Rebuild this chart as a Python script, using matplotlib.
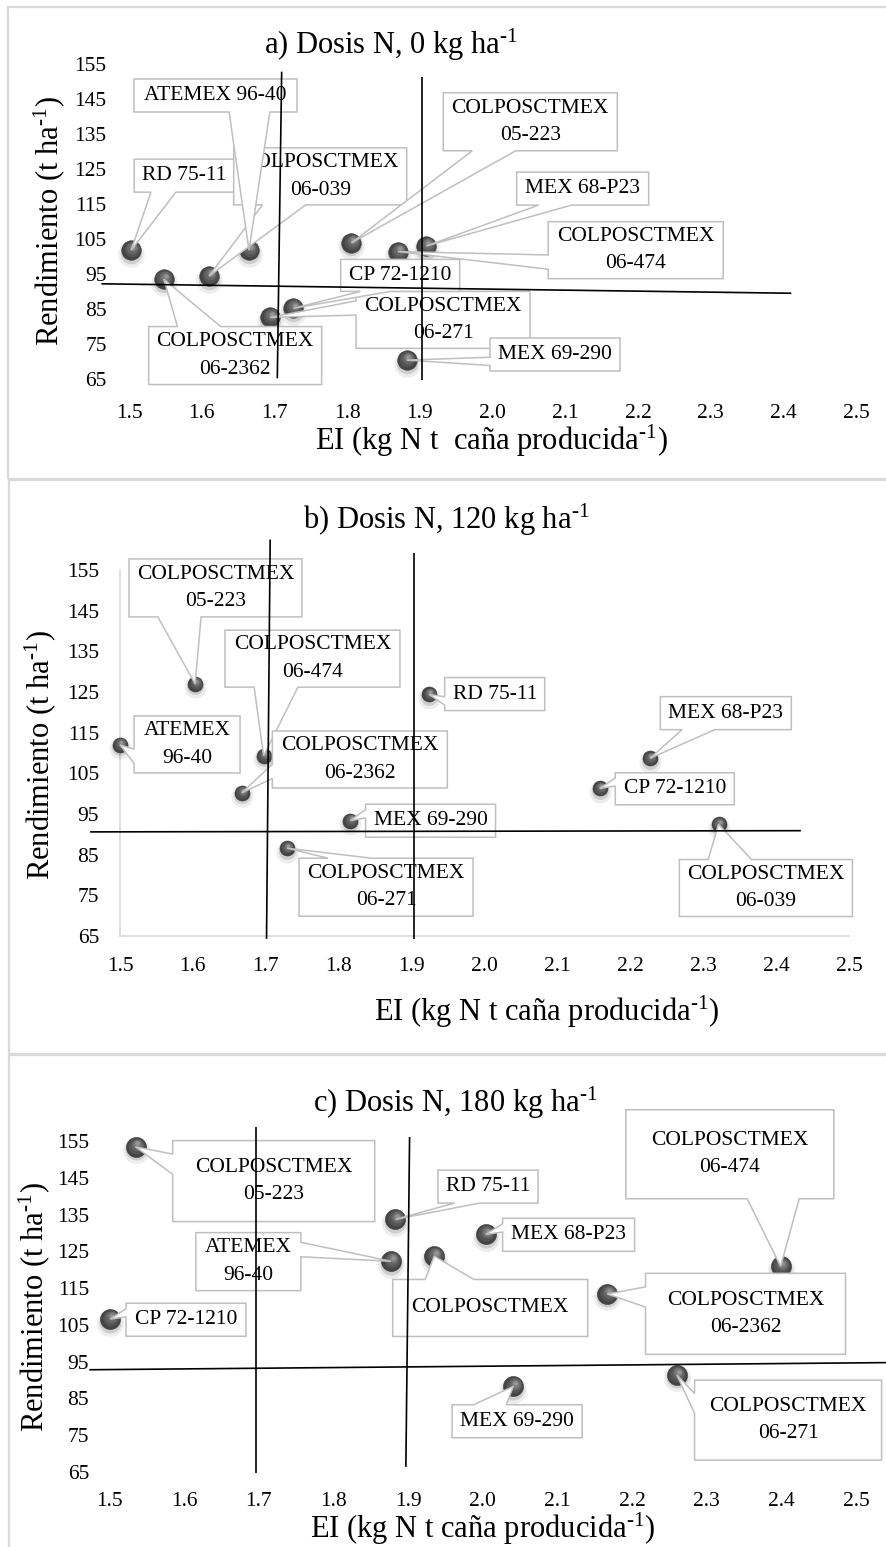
import matplotlib
matplotlib.use("Agg")
import matplotlib.pyplot as plt
from matplotlib.patches import Rectangle, PathPatch
from matplotlib.path import Path
from matplotlib.transforms import IdentityTransform, offset_copy
from matplotlib.mathtext import MathTextParser

plt.rcParams['font.family'] = ['Liberation Serif', 'DejaVu Serif']
plt.rcParams['mathtext.fontset'] = 'custom'
plt.rcParams['mathtext.rm'] = 'Liberation Serif'
plt.rcParams['mathtext.it'] = 'Liberation Serif:italic'


def _sup_m1():
    cand = r'$^{\text{-1}}$'
    try:
        MathTextParser('path').parse(cand)
        return cand
    except Exception:
        return r'$^{\mathregular{-1}}$'


SUP = _sup_m1()

# ---------------- data ----------------
x_ticks = [1.5, 1.6, 1.7, 1.8, 1.9, 2.0, 2.1, 2.2, 2.3, 2.4, 2.5]
x_tick_labels = ['1.5', '1.6', '1.7', '1.8', '1.9', '2.0', '2.1', '2.2', '2.3', '2.4', '2.5']
y_ticks = [65, 75, 85, 95, 105, 115, 125, 135, 145, 155]
y_tick_labels = ['65', '75', '85', '95', '105', '115', '125', '135', '145', '155']

titles = ['a) Dosis N, 0 kg ha' + SUP,
          'b) Dosis N, 120 kg ha' + SUP,
          'c) Dosis N, 180 kg ha' + SUP]
x_labels = ['EI (kg N t  caña producida' + SUP + ')',
            'EI (kg N t caña producida' + SUP + ')',
            'EI (kg N t caña producida' + SUP + ')']
y_label = 'Rendimiento (t ha' + SUP + ')'

# panel a) 0 kg N
varieties_a = ['RD 75-11', 'COLPOSCTMEX\n06-2362', 'COLPOSCTMEX\n06-039', 'ATEMEX 96-40',
               'COLPOSCTMEX\n05-223', 'COLPOSCTMEX\n06-474', 'MEX 68-P23',
               'COLPOSCTMEX\n06-271', 'CP 72-1210', 'MEX 69-290']
ei_a = [1.503, 1.548, 1.610, 1.665, 1.806, 1.870, 1.909, 1.694, 1.726, 1.882]
yield_a = [101.8, 93.5, 94.4, 101.8, 103.9, 101.4, 103.0, 82.6, 85.2, 70.4]

# panel b) 120 kg N
varieties_b = ['COLPOSCTMEX\n05-223', 'COLPOSCTMEX\n06-474', 'RD 75-11', 'ATEMEX\n96-40',
               'COLPOSCTMEX\n06-2362', 'MEX 68-P23', 'CP 72-1210', 'MEX 69-290',
               'COLPOSCTMEX\n06-271', 'COLPOSCTMEX\n06-039']
ei_b = [1.603, 1.697, 1.924, 1.500, 1.667, 2.227, 2.158, 1.816, 1.729, 2.321]
yield_b = [127.0, 109.3, 124.4, 112.0, 100.2, 108.7, 101.3, 93.4, 86.6, 92.5]

# panel c) 180 kg N
varieties_c = ['COLPOSCTMEX\n05-223', 'RD 75-11', 'MEX 68-P23', 'ATEMEX\n96-40',
               'COLPOSCTMEX', 'COLPOSCTMEX\n06-474', 'COLPOSCTMEX\n06-2362',
               'CP 72-1210', 'COLPOSCTMEX\n06-271', 'MEX 69-290']
ei_c = [1.535, 1.883, 2.004, 1.877, 1.935, 2.399, 2.167, 1.501, 2.260, 2.041]
yield_c = [153.4, 133.7, 129.6, 122.3, 123.7, 120.9, 113.4, 106.6, 91.4, 88.3]

# reference (mean) lines drawn on each panel: (x0, y0, x1, y1)
ref_lines_a = [(1.710, 152.8, 1.704, 65.2), (1.903, 151.4, 1.903, 64.7), (1.462, 92.2, 2.411, 89.5)]
ref_lines_b = [(1.706, 162.5, 1.701, 64.3), (1.903, 159.1, 1.903, 64.3), (1.459, 90.6, 2.434, 90.9)]
ref_lines_c = [(1.696, 158.8, 1.696, 64.6), (1.902, 156.1, 1.897, 66.4), (1.473, 92.8, 2.544, 94.75)]

# ---------------- layout (label placement) ----------------
lab_x_a = [1.576, 1.646, 1.763, 1.619, 2.052, 2.197, 2.124, 1.932, 1.873, 2.086]
lab_y_a = [123.1, 71.7, 122.9, 146.0, 138.5, 101.8, 119.4, 81.9, 94.6, 72.0]
box_w_a = [100, 173, 173, 163, 174, 175, 132, 174, 119, 130]
box_h_a = [33, 58, 57, 33, 58, 57, 33, 57, 32, 33]

lab_x_b = [1.631, 1.764, 2.014, 1.592, 1.829, 2.331, 2.261, 1.926, 1.865, 2.386]
lab_y_b = [150.6, 133.2, 124.5, 112.1, 108.4, 119.8, 101.2, 93.35, 77.0, 76.8]
box_w_b = [173, 175, 100, 106, 175, 131, 119, 130, 174, 173]
box_h_b = [58, 57, 33, 57, 57, 33, 32, 33, 58, 57]

lab_x_c = [1.720, 2.007, 2.115, 1.686, 2.010, 2.331, 2.352, 1.6025, 2.409, 2.046]
lab_y_c = [144.1, 142.6, 129.5, 122.2, 109.6, 151.4, 108.0, 106.4, 79.1, 78.8]
box_w_c = [202, 100, 132, 105, 195, 208, 200, 120, 187, 130]
box_h_c = [81, 33, 33, 58, 57, 89, 81, 33, 80, 33]

W, H = 886, 1547
DPI = 100
fig = plt.figure(figsize=(W / DPI, H / DPI), dpi=DPI)
fig.patch.set_facecolor('white')

BORDER = '#d9d9d9'
BOX_EDGE = '#bfbfbf'
LABEL_FS = 15.5
TICK_FS = 15.5
TITLE_FS = 22
AXLAB_FS = 22

# panel frames (pixel coords, y from top)
for (x0, y0, x1, y1) in [(8, 7, 905, 479), (9, 480, 905, 1054), (9, 1055, 905, 1570)]:
    fig.add_artist(Rectangle((x0, H - y1), x1 - x0, y1 - y0, transform=IdentityTransform(),
                             fill=False, ec=BORDER, lw=1.6, zorder=0))

# axes rectangles in pixels: left, top, right, bottom
axes_px = [(129, 64, 856, 379), (120, 570, 849, 936), (109.5, 1141, 856, 1472)]
tick_pads_y = [16, 15, 14.7]
tick_pads_x = [18, 15, 14.2]
ball_d = [19.5, 15, 20]
title_pos = [(391, 54), (446, 529), (455.5, 1112)]
xlab_pos = [(492, 450), (547, 1020.5), (483, 1538)]
ylab_pos = [(49, 221), (40, 755), (34, 1307.6)]


def callout(ax, xd, yd, lx, ly, w, h, text, z):
    T = ax.transData
    tx, ty = T.transform((xd, yd))
    cx, cy = T.transform((lx, ly))
    L, R, B, Tp = cx - w / 2, cx + w / 2, cy - h / 2, cy + h / 2
    dxp = tx - cx
    dyp = cy - ty  # positive when tip is below the box centre
    inside = (L <= tx <= R) and (B <= ty <= Tp)
    horiz = abs(dxp * h) > abs(dyp * w)
    gx = (7, 10) if dxp > 0 else (2, 5)
    gy = (7, 10) if dyp > 0 else (2, 5)
    tip = (tx, ty)
    v = [(L, Tp)]
    if not inside and not horiz and dyp <= 0:
        v += [(L + w * gx[0] / 12, Tp), tip, (L + w * gx[1] / 12, Tp)]
    v.append((R, Tp))
    if not inside and horiz and dxp > 0:
        v += [(R, Tp - h * gy[0] / 12), tip, (R, Tp - h * gy[1] / 12)]
    v.append((R, B))
    if not inside and not horiz and dyp > 0:
        v += [(L + w * gx[1] / 12, B), tip, (L + w * gx[0] / 12, B)]
    v.append((L, B))
    if not inside and horiz and dxp <= 0:
        v += [(L, Tp - h * gy[1] / 12), tip, (L, Tp - h * gy[0] / 12)]
    v.append((L, Tp))
    codes = [Path.MOVETO] + [Path.LINETO] * (len(v) - 2) + [Path.CLOSEPOLY]
    ax.add_patch(PathPatch(Path(v, codes), fc='white', ec=BOX_EDGE, lw=1.1,
                           transform=IdentityTransform(), zorder=z, clip_on=False))
    ax.text(cx, cy, text, transform=IdentityTransform(), ha='center', va='center',
            multialignment='center', fontsize=LABEL_FS, linespacing=1.6,
            zorder=z + 0.01, clip_on=False)


def balls(ax, xs, ys, d):
    pt = 72.0 / DPI
    base = ax.transData

    def off(dx, dy):
        return offset_copy(base, fig=fig, x=dx, y=dy, units='dots')
    ax.scatter(xs, ys, s=((d + 7) * pt) ** 2, c='#000000', alpha=0.07, linewidths=0,
               transform=off(0, -3.5), zorder=2.8, clip_on=False)
    ax.scatter(xs, ys, s=((d + 2) * pt) ** 2, c='#000000', alpha=0.13, linewidths=0,
               transform=off(0, -2.5), zorder=2.85, clip_on=False)
    ax.scatter(xs, ys, s=(d * pt) ** 2, c='#444444', edgecolors='#383838', linewidths=0.4,
               zorder=3, clip_on=False)
    for frac, col, ox, oy in [(0.80, '#545454', 0.03, 0.05), (0.60, '#666666', 0.06, 0.10),
                              (0.40, '#7b7b7b', 0.08, 0.14), (0.22, '#959595', 0.09, 0.17)]:
        ax.scatter(xs, ys, s=(d * frac * pt) ** 2, c=col, linewidths=0,
                   transform=off(ox * d, oy * d), zorder=3.01, clip_on=False)


panels = [
    (varieties_a, ei_a, yield_a, lab_x_a, lab_y_a, box_w_a, box_h_a, ref_lines_a),
    (varieties_b, ei_b, yield_b, lab_x_b, lab_y_b, box_w_b, box_h_b, ref_lines_b),
    (varieties_c, ei_c, yield_c, lab_x_c, lab_y_c, box_w_c, box_h_c, ref_lines_c),
]

for i, (names, xs, ys, lx, ly, bw, bh, refs) in enumerate(panels):
    l, t, r, b = axes_px[i]
    ax = fig.add_axes([l / W, 1 - b / H, (r - l) / W, (b - t) / H])
    ax.set_facecolor('none')
    ax.set_xlim(1.5, 2.5)
    ax.set_ylim(65, 155)
    ax.set_autoscale_on(False)
    ax.set_xticks(x_ticks)
    ax.set_xticklabels(x_tick_labels)
    ax.set_yticks(y_ticks)
    ax.set_yticklabels(y_tick_labels)
    ax.tick_params(axis='both', length=0, labelsize=TICK_FS)
    ax.tick_params(axis='y', pad=tick_pads_y[i])
    ax.tick_params(axis='x', pad=tick_pads_x[i])
    for s in ax.spines.values():
        s.set_visible(False)
    if i == 1:
        for s in ('left', 'bottom'):
            ax.spines[s].set_visible(True)
            ax.spines[s].set_color(BORDER)
            ax.spines[s].set_linewidth(1.2)

    balls(ax, xs, ys, ball_d[i])
    for k in range(len(names)):
        callout(ax, xs[k], ys[k], lx[k], ly[k], bw[k], bh[k], names[k], 5 + k * 0.1)
    for (x0, y0, x1, y1) in refs:
        ax.plot([x0, x1], [y0, y1], color='black', lw=1.2, zorder=10, clip_on=False,
                solid_capstyle='butt')

    fig.text(title_pos[i][0] / W, 1 - title_pos[i][1] / H, titles[i], ha='center',
             va='baseline', fontsize=TITLE_FS)
    fig.text(xlab_pos[i][0] / W, 1 - xlab_pos[i][1] / H, x_labels[i], ha='center',
             va='baseline', fontsize=AXLAB_FS)
    fig.text(ylab_pos[i][0] / W, 1 - ylab_pos[i][1] / H, y_label, ha='center',
             va='center', rotation=90, fontsize=AXLAB_FS)

fig.savefig('out.png', dpi=DPI, facecolor='white')
